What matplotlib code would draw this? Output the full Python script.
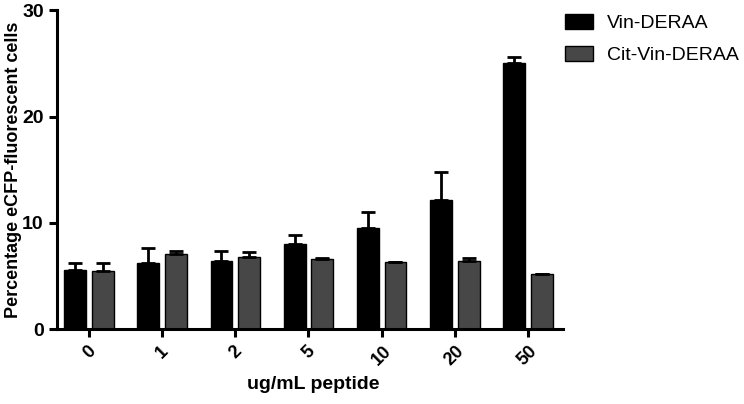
import matplotlib.pyplot as plt
import numpy as np

plt.rcParams['font.family'] = ['Liberation Sans', 'DejaVu Sans']

categories = ['0', '1', '2', '5', '10', '20', '50']
vin = [5.55, 6.2, 6.4, 8.0, 9.5, 12.1, 25.0]
vin_err = [0.65, 1.4, 0.9, 0.85, 1.5, 2.7, 0.6]
cit = [5.5, 7.05, 6.8, 6.6, 6.3, 6.4, 5.15]
cit_err = [0.7, 0.25, 0.45, 0.05, 0.05, 0.3, 0.05]

fig = plt.figure(figsize=(7.44, 4.04), dpi=100)
ax = fig.add_axes([0.0766, 0.1856, 0.68, 0.789])

x = np.arange(len(categories))
w = 0.30
off = 0.19
ax.bar(x - off, vin, w, color='black', edgecolor='black', linewidth=1,
       yerr=[np.zeros(len(vin)), vin_err], capsize=5,
       error_kw=dict(elinewidth=2, capthick=2, ecolor='black'), label='Vin-DERAA')
ax.bar(x + off, cit, w, color='#474747', edgecolor='black', linewidth=1,
       yerr=[np.zeros(len(cit)), cit_err], capsize=5,
       error_kw=dict(elinewidth=2, capthick=2, ecolor='black'), label='Cit-Vin-DERAA')

ax.set_xlim(-0.44, 6.48)
ax.set_ylim(0, 30)
ax.set_yticks([0, 10, 20, 30])
ax.set_xticks(x)
ax.set_xticklabels(categories, rotation=45, ha='center', fontsize=13, fontweight='bold')
ax.set_yticklabels(['0', '10', '20', '30'], fontsize=14, fontweight='bold')
for s in ['top', 'right']:
    ax.spines[s].set_visible(False)
for s in ['left', 'bottom']:
    ax.spines[s].set_linewidth(2.2)
ax.tick_params(width=2.2, length=6)
ax.tick_params(axis='x', pad=4)

ax.set_ylabel('Percentage eCFP-fluorescent cells', fontsize=13, fontweight='bold')
ax.yaxis.set_label_coords(-0.07, 0.5)
ax.set_xlabel('ug/mL peptide', fontsize=14, fontweight='bold', va='center')
ax.xaxis.set_label_coords(0.506, -0.175)

fig.legend(loc='upper left', bbox_to_anchor=(0.759, 0.965), frameon=False,
           fontsize=14, handlelength=1.45, handleheight=0.8, handletextpad=0.7,
           labelspacing=0.7, borderpad=0, borderaxespad=0)

fig.savefig('out.png', dpi=100)
